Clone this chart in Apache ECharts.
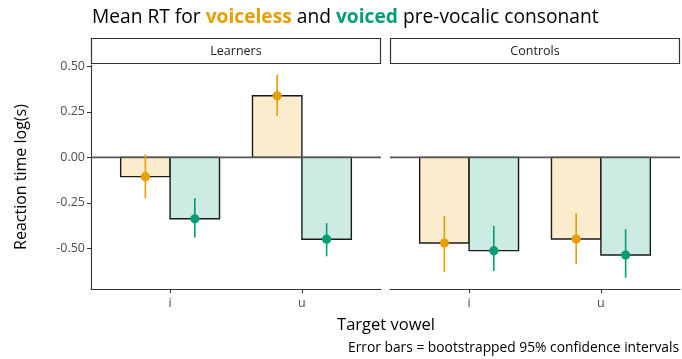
<!DOCTYPE html>
<html><head><meta charset="utf-8">
<script src="https://cdn.jsdelivr.net/npm/echarts@6/dist/echarts.min.js"></script>
<style>html,body{margin:0;padding:0;background:#fff}#c{width:682px;height:359px}</style>
</head><body><div id="c"></div>
<script>
const vowels = ['i', 'u'];
const groups = ['Learners', 'Controls'];
const yTicks = [-0.5, -0.25, 0, 0.25, 0.5];

const learnersVoiceless = [-0.106, 0.339];
const learnersVoicelessLo = [-0.225, 0.229];
const learnersVoicelessHi = [0.016, 0.455];
const learnersVoiced = [-0.338, -0.450];
const learnersVoicedLo = [-0.441, -0.544];
const learnersVoicedHi = [-0.224, -0.362];

const controlsVoiceless = [-0.471, -0.449];
const controlsVoicelessLo = [-0.631, -0.587];
const controlsVoicelessHi = [-0.321, -0.307];
const controlsVoiced = [-0.513, -0.537];
const controlsVoicedLo = [-0.625, -0.662];
const controlsVoicedHi = [-0.377, -0.395];

const FONT = 'Open Sans';
const ORANGE = '#E69F00', GREEN = '#009E73';
const ORANGE_FILL = '#FAECCC', GREEN_FILL = '#CCECE3';
const DODGE = 0.375;

function barSeries(values, ai, offset, fill) {
  return {
    type: 'custom', xAxisIndex: ai, yAxisIndex: ai, z: 2, silent: true,
    data: values.map((v, i) => [i + 1, v]),
    renderItem: (params, api) => {
      const x = api.value(0), v = api.value(1);
      const p0 = api.coord([x + offset, 0]);
      const p1 = api.coord([x + offset + DODGE, v]);
      return { type: 'rect', shape: { x: Math.min(p0[0], p1[0]), y: Math.min(p0[1], p1[1]), width: Math.abs(p1[0] - p0[0]), height: Math.abs(p1[1] - p0[1]) },
        style: { fill: fill, stroke: '#1a1a1a', lineWidth: 1.4 } };
    }
  };
}
function errSeries(values, lo, hi, ai, offset, color) {
  return {
    type: 'custom', xAxisIndex: ai, yAxisIndex: ai, z: 5, silent: true,
    data: values.map((v, i) => [i + 1, v, lo[i], hi[i]]),
    renderItem: (params, api) => {
      const x = api.value(0) + offset + DODGE / 2;
      const pm = api.coord([x, api.value(1)]);
      const pl = api.coord([x, api.value(2)]);
      const ph = api.coord([x, api.value(3)]);
      return { type: 'group', children: [
        { type: 'line', shape: { x1: pl[0], y1: pl[1], x2: ph[0], y2: ph[1] }, style: { stroke: color, lineWidth: 1.6 } },
        { type: 'circle', shape: { cx: pm[0], cy: pm[1], r: 4.6 }, style: { fill: color } }
      ] };
    }
  };
}
function zeroLine(ai) {
  return {
    type: 'custom', xAxisIndex: ai, yAxisIndex: ai, z: 3, silent: true,
    data: [[0.4, 2.6]],
    renderItem: (params, api) => {
      const a = api.coord([api.value(0), 0]), b = api.coord([api.value(1), 0]);
      return { type: 'line', shape: { x1: a[0], y1: a[1], x2: b[0], y2: b[1] }, style: { stroke: '#555', lineWidth: 1.6 } };
    }
  };
}

const axisLabelStyle = { color: '#4d4d4d', fontSize: 12.5, fontFamily: FONT };
function xAxis(ai) {
  return {
    gridIndex: ai, type: 'value', min: 0.4, max: 2.6,
    splitLine: { show: false },
    axisLine: { show: true, onZero: false, lineStyle: { color: '#333', width: 1.1 } },
    axisTick: { show: true, length: 4, customValues: [1, 2], lineStyle: { color: '#333' } },
    axisLabel: Object.assign({ customValues: [1, 2], margin: 8, formatter: v => vowels[Math.round(v) - 1] }, axisLabelStyle)
  };
}
function yAxis(ai) {
  const left = ai === 0;
  return {
    gridIndex: ai, type: 'value', min: -0.724, max: 0.508,
    splitLine: { show: false },
    name: left ? 'Reaction time log(s)' : '', nameLocation: 'middle', nameGap: 62,
    nameTextStyle: { fontSize: 16, color: '#000', fontFamily: FONT },
    axisLine: { show: left, lineStyle: { color: '#333', width: 1.1 } },
    axisTick: { show: left, length: 4, customValues: yTicks, lineStyle: { color: '#333' } },
    axisLabel: Object.assign({ show: left, customValues: yTicks, margin: 6, formatter: v => v.toFixed(2) }, axisLabelStyle)
  };
}

const chart = echarts.init(document.getElementById('c'), null, { renderer: 'canvas' });
chart.setOption({
  animation: false,
  backgroundColor: '#fff',
  title: [{
    text: 'Mean RT for {o|voiceless} and {g|voiced} pre-vocalic consonant',
    left: 87, top: 3,
    textStyle: { fontSize: 19.2, fontWeight: 'normal', color: '#000', fontFamily: FONT,
      rich: { o: { color: ORANGE, fontWeight: 'bold', fontSize: 19.2, fontFamily: FONT },
              g: { color: GREEN, fontWeight: 'bold', fontSize: 19.2, fontFamily: FONT } } }
  }],
  grid: [
    { left: 91, top: 65, width: 290, height: 224 },
    { left: 390, top: 65, width: 290, height: 224 }
  ],
  xAxis: [xAxis(0), xAxis(1)],
  yAxis: [yAxis(0), yAxis(1)],
  graphic: [
    { type: 'rect', shape: { x: 91.5, y: 38.5, width: 289, height: 25 }, style: { fill: '#fff', stroke: '#333', lineWidth: 1.2 } },
    { type: 'rect', shape: { x: 390.5, y: 38.5, width: 289, height: 25 }, style: { fill: '#fff', stroke: '#333', lineWidth: 1.2 } },
    { type: 'text', x: 236, y: 51, style: { text: groups[0], fontSize: 12.5, fill: '#1a1a1a', fontFamily: FONT, align: 'center', verticalAlign: 'middle' } },
    { type: 'text', x: 535, y: 51, style: { text: groups[1], fontSize: 12.5, fill: '#1a1a1a', fontFamily: FONT, align: 'center', verticalAlign: 'middle' } },
    { type: 'text', x: 386, y: 325, style: { text: 'Target vowel', fontSize: 16.5, fill: '#000', fontFamily: FONT, align: 'center', verticalAlign: 'middle' } },
    { type: 'text', x: 679, y: 348, style: { text: 'Error bars = bootstrapped 95% confidence intervals', fontSize: 13.8, fill: '#000', fontFamily: FONT, align: 'right', verticalAlign: 'middle' } }
  ],
  series: [
    barSeries(learnersVoiceless, 0, -DODGE, ORANGE_FILL),
    barSeries(learnersVoiced, 0, 0, GREEN_FILL),
    barSeries(controlsVoiceless, 1, -DODGE, ORANGE_FILL),
    barSeries(controlsVoiced, 1, 0, GREEN_FILL),
    zeroLine(0), zeroLine(1),
    errSeries(learnersVoiceless, learnersVoicelessLo, learnersVoicelessHi, 0, -DODGE, ORANGE),
    errSeries(learnersVoiced, learnersVoicedLo, learnersVoicedHi, 0, 0, GREEN),
    errSeries(controlsVoiceless, controlsVoicelessLo, controlsVoicelessHi, 1, -DODGE, ORANGE),
    errSeries(controlsVoiced, controlsVoicedLo, controlsVoicedHi, 1, 0, GREEN)
  ]
});
</script></body></html>
